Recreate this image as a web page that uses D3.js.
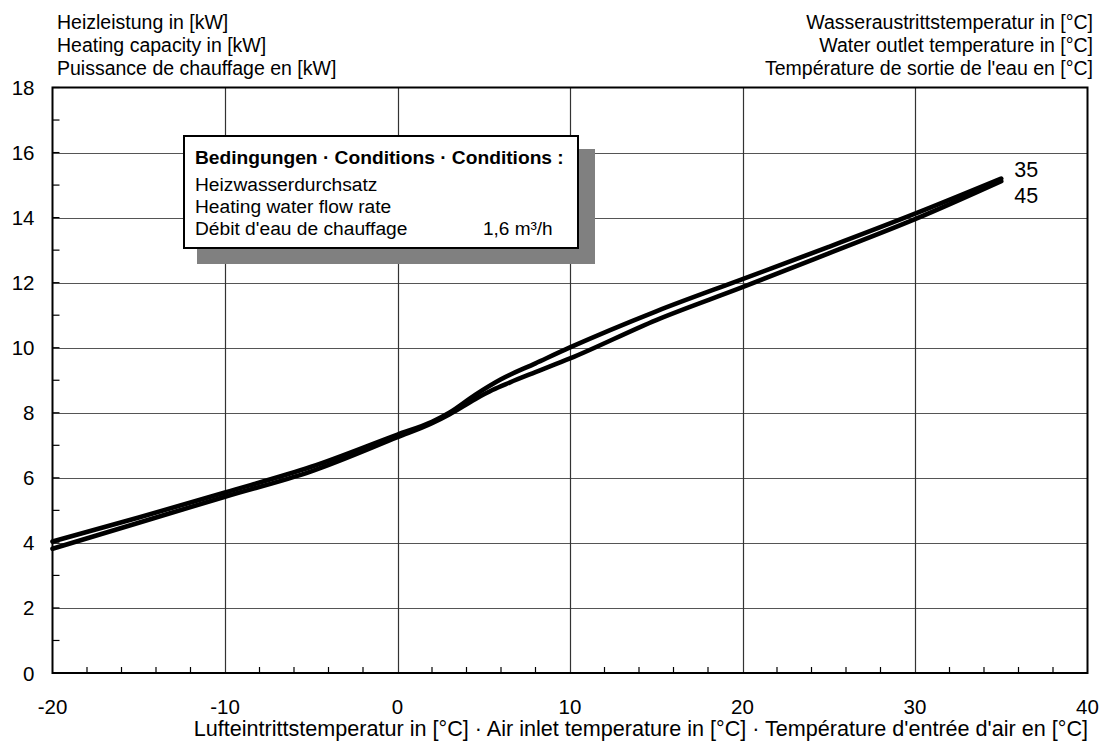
<!DOCTYPE html>
<html>
<head>
<meta charset="utf-8">
<script src="https://cdn.jsdelivr.net/npm/d3@7"></script>
<style>
  html, body { margin: 0; padding: 0; background: #fff; }
  svg { display: block; }
  text { font-family: "Liberation Sans", Arial, sans-serif; fill: #000; }
</style>
</head>
<body>
<svg id="chart" width="1102" height="744"></svg>
<script>
// ---- data ----
const xTicks = [-20, -10, 0, 10, 20, 30, 40];
const xTickLabels = ["-20", "-10", "0", "10", "20", "30", "40"];
const yTicks = [0, 2, 4, 6, 8, 10, 12, 14, 16, 18];
const yTickLabels = ["0", "2", "4", "6", "8", "10", "12", "14", "16", "18"];
const xMinor = [-18, -16, -14, -12, -8, -6, -4, -2, 2, 4, 6, 8, 12, 14, 16, 18, 22, 24, 26, 28, 32, 34, 36, 38];
const yMinor = [1, 3, 5, 7, 9, 11, 13, 15, 17];

const airTemp35 = [-20, -15, -10, -5, 0, 2, 3, 4.5, 6, 8, 10, 15, 20, 25, 30, 35];
const cap35     = [4.04, 4.78, 5.55, 6.34, 7.33, 7.72, 8.0, 8.55, 9.03, 9.52, 10.01, 11.12, 12.11, 13.10, 14.12, 15.20];
const airTemp45 = [-20, -15, -10, -5, 0, 2, 3, 4.5, 5.5, 6.5, 8, 10, 15, 20, 25, 30, 35];
const cap45     = [3.82, 4.62, 5.42, 6.20, 7.25, 7.68, 7.95, 8.42, 8.70, 8.93, 9.25, 9.67, 10.85, 11.86, 12.90, 13.95, 15.12];
const seriesNames = ["35", "45"];

const leftTitle = ["Heizleistung in [kW]", "Heating capacity in [kW]", "Puissance de chauffage en [kW]"];
const rightTitle = ["Wasseraustrittstemperatur in [°C]", "Water outlet temperature in [°C]", "Température de sortie de l'eau en [°C]"];
const xTitle = "Lufteintrittstemperatur in [°C] · Air inlet temperature in [°C] · Température d'entrée d'air en [°C]";
const boxTitle = "Bedingungen · Conditions · Conditions :";
const boxLines = ["Heizwasserdurchsatz", "Heating water flow rate", "Débit d'eau de chauffage"];
const boxValue = "1,6 m³/h";

// ---- layout ----
const L = 52.5, R = 1087.5, T = 87.5, B = 673;
const svg = d3.select("#chart");
const x = d3.scaleLinear().domain([-20, 40]).range([L, R]);
const y = d3.scaleLinear().domain([0, 18]).range([B, T]);

// grid
const g = svg.append("g");
g.selectAll("line.hg").data(yTicks.filter(v => v > 0 && v < 18)).enter().append("line")
  .attr("x1", L).attr("x2", R).attr("y1", d => Math.round(y(d)) + 0.5).attr("y2", d => Math.round(y(d)) + 0.5)
  .attr("stroke", "#555").attr("stroke-width", 1.2);
g.selectAll("line.vg").data(xTicks.filter(v => v > -20 && v < 40)).enter().append("line")
  .attr("y1", T).attr("y2", B).attr("x1", d => Math.round(x(d)) + 0.5).attr("x2", d => Math.round(x(d)) + 0.5)
  .attr("stroke", "#333").attr("stroke-width", 1.2);

// minor ticks
g.selectAll("line.ym").data(yMinor.concat(yTicks)).enter().append("line")
  .attr("x1", L).attr("x2", L + 7).attr("y1", d => y(d)).attr("y2", d => y(d))
  .attr("stroke", "#000").attr("stroke-width", 1.2);
g.selectAll("line.xm").data(xMinor).enter().append("line")
  .attr("y1", B).attr("y2", B - 6).attr("x1", d => x(d)).attr("x2", d => x(d))
  .attr("stroke", "#000").attr("stroke-width", 1.2);

// frame
svg.append("rect").attr("x", L).attr("y", T).attr("width", R - L).attr("height", B - T)
  .attr("fill", "none").attr("stroke", "#000").attr("stroke-width", 2);

// tick labels
svg.selectAll("text.xt").data(xTicks).enter().append("text")
  .attr("x", d => x(d)).attr("y", B + 41).attr("text-anchor", "middle")
  .style("font-size", "20.5px").text((d, i) => xTickLabels[i]);
svg.selectAll("text.yt").data(yTicks).enter().append("text")
  .attr("x", L - 18).attr("y", d => y(d) + 7.5).attr("text-anchor", "end")
  .style("font-size", "20.5px").text((d, i) => yTickLabels[i]);

// titles
svg.selectAll("text.lt").data(leftTitle).enter().append("text")
  .attr("x", 57).attr("y", (d, i) => 29 + i * 23).style("font-size", "19.5px").text(d => d);
svg.selectAll("text.rt").data(rightTitle).enter().append("text")
  .attr("x", 1093).attr("y", (d, i) => 29 + i * 23).attr("text-anchor", "end").style("font-size", "19.5px").text(d => d);
svg.append("text").attr("x", 1088).attr("y", 736).attr("text-anchor", "end").style("font-size", "21.6px").text(xTitle);

// curves
const series = [{t: airTemp45, v: cap45}, {t: airTemp35, v: cap35}];
const line = d3.line().x(d => x(d[0])).y(d => y(d[1])).curve(d3.curveMonotoneX);
svg.selectAll("path.curve").data(series).enter().append("path")
  .attr("d", s => line(s.t.map((t, i) => [t, s.v[i]]))).attr("fill", "none").attr("stroke", "#000")
  .attr("stroke-width", 4.6).attr("stroke-linejoin", "round").attr("stroke-linecap", "round");

// curve labels
const last35 = airTemp35[airTemp35.length - 1];
const last45 = airTemp45[airTemp45.length - 1];
svg.append("text").attr("x", x(last35) + 13).attr("y", y(cap35[cap35.length - 1]) - 2)
  .style("font-size", "21.5px").text(seriesNames[0]);
svg.append("text").attr("x", x(last45) + 13).attr("y", y(cap45[cap45.length - 1]) + 22)
  .style("font-size", "21.5px").text(seriesNames[1]);

// conditions box
svg.append("rect").attr("x", 197).attr("y", 149).attr("width", 398).attr("height", 115).attr("fill", "#808080");
svg.append("rect").attr("x", 184).attr("y", 136).attr("width", 394).attr("height", 112)
  .attr("fill", "#fff").attr("stroke", "#000").attr("stroke-width", 2);
svg.append("text").attr("x", 195).attr("y", 164).style("font-size", "19.2px").style("font-weight", "bold").text(boxTitle);
svg.selectAll("text.bl").data(boxLines).enter().append("text")
  .attr("x", 195).attr("y", (d, i) => 191 + i * 22).style("font-size", "19.2px").text(d => d);
svg.append("text").attr("x", 483).attr("y", 235).style("font-size", "19px").text(boxValue);
</script>
</body>
</html>
